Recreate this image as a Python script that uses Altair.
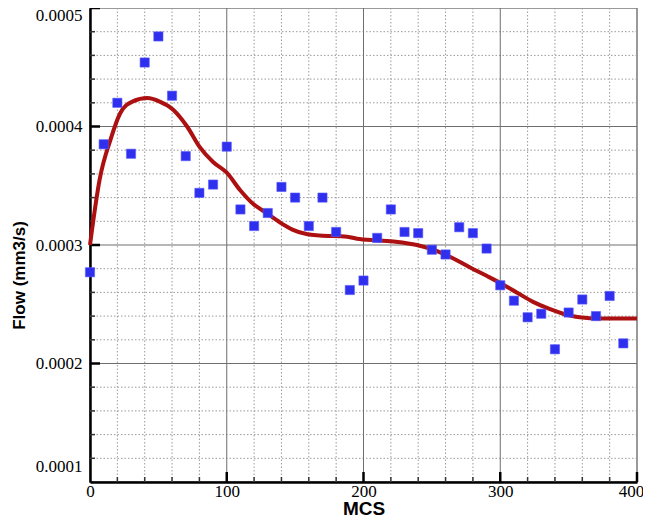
import altair as alt
import pandas as pd

# Scatter data (MCS vs Flow)
mcs = [0, 10, 20, 30, 40, 50, 60, 70, 80, 90, 100, 110, 120, 130, 140, 150, 160, 170, 180, 190,
       200, 210, 220, 230, 240, 250, 260, 270, 280, 290, 300, 310, 320, 330, 340, 350, 360, 370, 380, 390]
flow = [0.000277, 0.000385, 0.000420, 0.000377, 0.000454, 0.000476, 0.000426, 0.000375, 0.000344, 0.000351,
        0.000383, 0.000330, 0.000316, 0.000327, 0.000349, 0.000340, 0.000316, 0.000340, 0.000311, 0.000262,
        0.000270, 0.000306, 0.000330, 0.000311, 0.000310, 0.000296, 0.000292, 0.000315, 0.000310, 0.000297,
        0.000266, 0.000253, 0.000239, 0.000242, 0.000212, 0.000243, 0.000254, 0.000240, 0.000257, 0.000217]

# Fitted curve (traced)
curve_x = [0, 1.5, 7, 15, 22, 31, 42, 51, 61, 71, 80, 90, 100, 110, 119, 129, 139, 148, 159, 168,
           188, 197, 222, 239, 251, 265, 278, 290, 300, 312, 324, 336, 346, 358, 373, 388, 400]
curve_y = [0.000300, 0.000313, 0.000355, 0.000389, 0.000411, 0.000421, 0.000424, 0.000421, 0.000414, 0.000400,
           0.000383, 0.000370, 0.000361, 0.000346, 0.000335, 0.000327, 0.000319, 0.000313, 0.000309, 0.000308,
           0.000307, 0.000305, 0.000303, 0.000300, 0.000296, 0.000289, 0.000281, 0.000274, 0.000268, 0.000260,
           0.000252, 0.000246, 0.000242, 0.000239, 0.000238, 0.000238, 0.000238]

# Axis ticks / grid positions
x_labels = [0, 100, 200, 300, 400]
x_major_grid = [100, 200, 300]
x_minor = [v for v in range(20, 400, 20) if v % 100 != 0]
x_major_ticks = [100, 200, 300, 400]
y_labels = [0.0001, 0.0002, 0.0003, 0.0004, 0.0005]
y_major_grid = [0.0002, 0.0003, 0.0004]
y_minor = [0.00012, 0.00014, 0.00016, 0.00018, 0.00022, 0.00024, 0.00026, 0.00028,
           0.00032, 0.00034, 0.00036, 0.00038, 0.00042, 0.00044, 0.00046, 0.00048]
y_major_ticks = [0.0002, 0.0003, 0.0004, 0.0005]

W, H = 547, 474

xs = alt.Scale(domain=[0, 400], nice=False, zero=False)
ys = alt.Scale(domain=[0.0001, 0.0005], nice=False, zero=False)

x_axis = alt.Axis(values=x_labels, format="d", title="MCS", grid=False, ticks=False,
                  domainColor="black", domainWidth=2.5,
                  labelFont="Liberation Serif", labelFontSize=17, labelColor="black",
                  labelPadding=1, labelFlush=False, labelOverlap=False,
                  labelOffset={"condition": {"test": "datum.value > 350", "value": -6}, "value": 0},
                  titleFont="Liberation Sans", titleFontWeight="bold", titleFontSize=19,
                  titleColor="black", titleBaseline="alphabetic", titleY=32)
y_axis = alt.Axis(values=y_labels, format=".4f", title="Flow (mm3/s)", grid=False, ticks=False,
                  domainColor="black", domainWidth=2.5,
                  labelFont="Liberation Serif", labelFontSize=17, labelColor="black",
                  labelPadding=8, labelFlush=False, labelOverlap=False,
                  labelOffset={"condition": [{"test": "datum.value > 0.00045", "value": 7},
                                             {"test": "datum.value < 0.00015", "value": -16}],
                               "value": 0},
                  titleFont="Liberation Sans", titleFontWeight="bold", titleFontSize=17,
                  titleColor="black", titleBaseline="alphabetic", titleX=-66, titleY=267)


def X(field="x"):
    return alt.X(f"{field}:Q", scale=xs, axis=x_axis)


def Y(field="y"):
    return alt.Y(f"{field}:Q", scale=ys, axis=y_axis)


minor_x = alt.Chart(pd.DataFrame({"x": x_minor})).mark_rule(
    color="#9a9a9a", strokeWidth=1, strokeDash=[1.5, 2]).encode(x=X())
minor_y = alt.Chart(pd.DataFrame({"y": y_minor})).mark_rule(
    color="#9a9a9a", strokeWidth=1, strokeDash=[1.5, 2]).encode(y=Y())
major_x = alt.Chart(pd.DataFrame({"x": x_major_grid})).mark_rule(
    color="#6e6e6e", strokeWidth=1).encode(x=X())
major_y = alt.Chart(pd.DataFrame({"y": y_major_grid})).mark_rule(
    color="#6e6e6e", strokeWidth=1).encode(y=Y())

tick_minor_x = alt.Chart(pd.DataFrame({"x": x_minor})).mark_rule(
    color="#333333", strokeWidth=1.5).encode(x=X(), y=alt.value(H), y2=alt.value(H - 5))
tick_major_x = alt.Chart(pd.DataFrame({"x": x_major_ticks})).mark_rule(
    color="black", strokeWidth=2.5).encode(x=X(), y=alt.value(H), y2=alt.value(H - 10))
tick_minor_y = alt.Chart(pd.DataFrame({"y": y_minor})).mark_rule(
    color="#333333", strokeWidth=1.5).encode(y=Y(), x=alt.value(0), x2=alt.value(5))
tick_major_y = alt.Chart(pd.DataFrame({"y": y_major_ticks})).mark_rule(
    color="black", strokeWidth=2.5).encode(y=Y(), x=alt.value(0), x2=alt.value(10))

curve = alt.Chart(pd.DataFrame({"x": curve_x, "y": curve_y})).mark_line(
    color="#ac1010", strokeWidth=4, interpolate="monotone").encode(x=X(), y=Y(), order="x:Q")

points = alt.Chart(pd.DataFrame({"x": mcs, "y": flow})).mark_square(
    color="#2f2fee", size=85, opacity=1, stroke="#5a5aff", strokeWidth=0.6).encode(x=X(), y=Y())

chart = alt.layer(minor_x, minor_y, major_x, major_y, tick_minor_x, tick_major_x,
                  tick_minor_y, tick_major_y, curve, points).properties(
    width=W, height=H,
    autosize=alt.AutoSizeParams(type="none"),
    padding={"left": 82, "top": 0, "right": 6, "bottom": 36},
    background="white",
).configure_view(stroke="#7a7a7a", strokeWidth=1.5)

chart.save("out.html", embed_options={"renderer": "svg", "actions": False})
